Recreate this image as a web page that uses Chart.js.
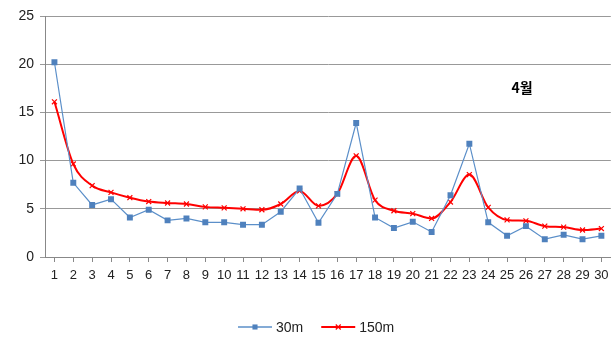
<!DOCTYPE html>
<html>
<head>
<meta charset="utf-8">
<script src="https://cdn.jsdelivr.net/npm/chart.js@4"></script>
<style>
  html, body { margin: 0; padding: 0; background: #fff; }
  #wrap { width: 616px; height: 340px; position: relative; }
</style>
</head>
<body>
<div id="wrap"><canvas id="dayChart"></canvas></div>
<script>
var days = [];
for (var d = 1; d <= 30; d++) days.push(String(d));

var series30m = [20.2, 7.7, 5.4, 6.0, 4.1, 4.9, 3.8, 4.0, 3.6, 3.6,
                 3.35, 3.35, 4.7, 7.1, 3.55, 6.55, 13.9, 4.1, 3.0, 3.65,
                 2.6, 6.4, 11.75, 3.6, 2.2, 3.2, 1.85, 2.3, 1.85, 2.2];
var series150m = [16.1, 9.65, 7.4, 6.7, 6.15, 5.75, 5.6, 5.5, 5.2, 5.1,
                  5.0, 4.9, 5.5, 6.85, 5.3, 6.55, 10.5, 5.9, 4.8, 4.5,
                  4.0, 5.7, 8.55, 5.15, 3.85, 3.75, 3.2, 3.1, 2.8, 2.95];
var yTicks = [0, 5, 10, 15, 20, 25];
var monthLabel = '4월';

const blue = '#4F81BD';
const red = '#FF0000';
const fontFamily = '"Liberation Sans", Arial, sans-serif';

// month label + legend drawn on the canvas
const extras = {
    id: 'extras',
    afterDraw: function (chart) {
        var ctx = chart.ctx;
        ctx.save();
        ctx.fillStyle = '#000';
        ctx.font = 'bold 14px "Noto Sans CJK KR", sans-serif';
        ctx.textAlign = 'center';
        ctx.textBaseline = 'middle';
        ctx.fillText(monthLabel, 522, 88);

        var items = [
            { text: '30m', color: blue, line: '#5B8FC9', style: 'rect', width: 1.5, r: 3.6 },
            { text: '150m', color: red, line: red, style: 'crossRot', width: 2, r: 3.5 },
        ];
        var x = 238;
        var y = 327;
        ctx.font = '14px ' + fontFamily;
        ctx.textAlign = 'left';
        items.forEach(function (it) {
            ctx.strokeStyle = it.line;
            ctx.lineWidth = it.width;
            ctx.beginPath();
            ctx.moveTo(x, y);
            ctx.lineTo(x + 34, y);
            ctx.stroke();
            ctx.fillStyle = it.color;
            ctx.strokeStyle = it.color;
            ctx.lineWidth = 1.2;
            Chart.helpers.drawPoint(ctx, {
                pointStyle: it.style,
                radius: it.r,
                borderWidth: it.style === 'rect' ? 0 : 1.2,
            }, x + 17, y);
            ctx.fillStyle = '#222';
            ctx.fillText(it.text, x + 38, y + 1);
            x += 38 + ctx.measureText(it.text).width + 18;
        });
        ctx.restore();
    },
};

var ctxEl = document.getElementById('dayChart');
new Chart(ctxEl, {
    type: 'line',
    data: {
        labels: days,
        datasets: [
            {
                label: '30m',
                data: series30m,
                borderColor: '#5B8FC9',
                backgroundColor: blue,
                borderWidth: 1.2,
                pointStyle: 'rect',
                pointRadius: 4.2,
                pointBorderColor: blue,
                pointBackgroundColor: blue,
                pointBorderWidth: 0,
                tension: 0,
            },
            {
                label: '150m',
                data: series150m,
                borderColor: red,
                backgroundColor: red,
                borderWidth: 2,
                pointStyle: 'crossRot',
                pointRadius: 3.5,
                pointBorderColor: red,
                pointBorderWidth: 1.2,
                cubicInterpolationMode: 'monotone',
            },
        ],
    },
    options: {
        responsive: true,
        maintainAspectRatio: false,
        animation: false,
        layout: {
            padding: { top: 16, right: 4, bottom: 0, left: 0 },
        },
        scales: {
            x: {
                offset: true,
                grid: {
                    drawOnChartArea: false,
                    drawTicks: true,
                    tickLength: 5,
                    color: '#888',
                },
                border: { display: true, color: '#888' },
                ticks: {
                    color: '#222',
                    font: { family: fontFamily, size: 13 },
                    autoSkip: false,
                    maxRotation: 0,
                    minRotation: 0,
                    padding: 6,
                },
                afterFit: function (scale) {
                    scale.height = 83;
                },
            },
            y: {
                min: 0,
                max: 25,
                afterBuildTicks: function (scale) {
                    scale.ticks = yTicks.map(function (v) { return { value: v }; });
                },
                grid: {
                    color: '#999',
                    tickLength: 5,
                },
                border: { display: true, color: '#888' },
                ticks: {
                    color: '#222',
                    font: { family: fontFamily, size: 14 },
                    padding: 6,
                },
                afterFit: function (scale) {
                    scale.width = 45;
                },
            },
        },
        plugins: {
            legend: { display: false },
            tooltip: { enabled: false },
        },
    },
    plugins: [extras],
});
</script>
</body>
</html>
